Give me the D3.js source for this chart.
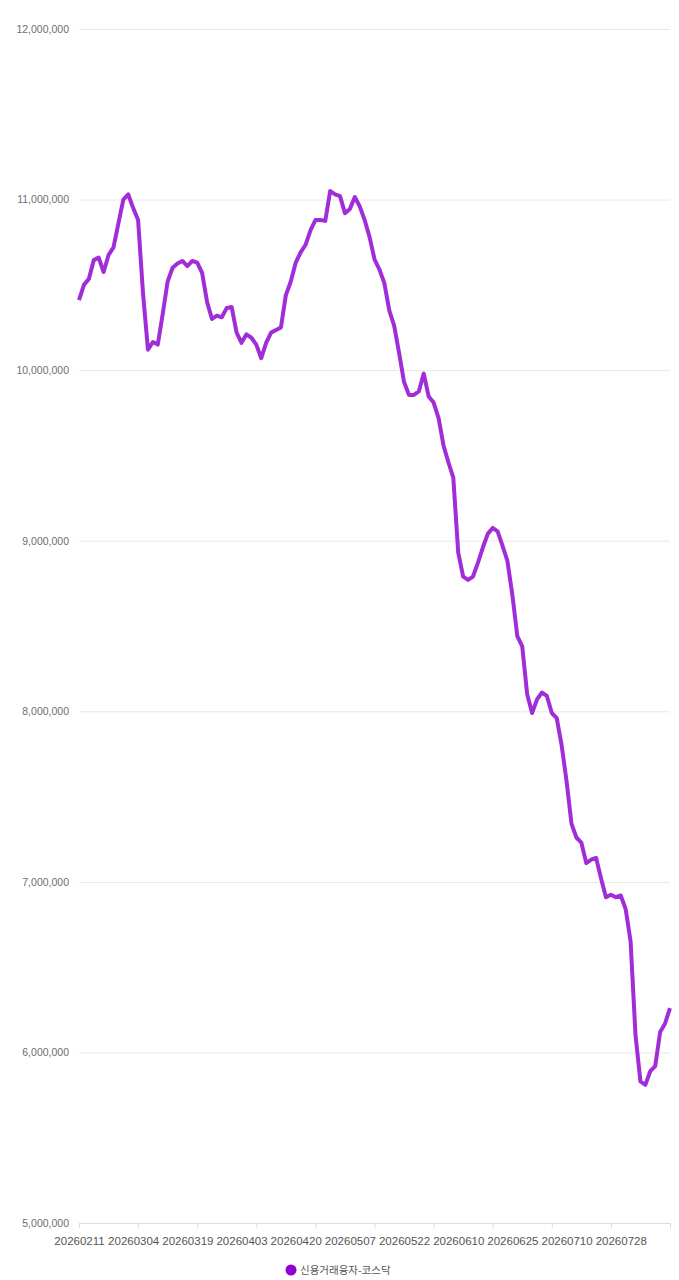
<!DOCTYPE html>
<html>
<head>
<meta charset="utf-8">
<script src="https://cdn.jsdelivr.net/npm/d3@7"></script>
<style>
  html, body { margin:0; padding:0; background:#fff; }
  svg { display:block; font-family: Roboto, "Noto Sans CJK KR", sans-serif; }
</style>
</head>
<body>
<svg id="chart" width="679" height="1280"></svg>
<script>
// trading days (categories)
const dates = [
  "20260211","20260212","20260213","20260219","20260220","20260223","20260224","20260225","20260226","20260227",
  "20260303","20260304","20260305","20260306","20260309","20260310","20260311","20260312","20260313","20260316",
  "20260317","20260318","20260319","20260320","20260323","20260324","20260325","20260326","20260327","20260330",
  "20260331","20260401","20260402","20260403","20260406","20260407","20260408","20260409","20260410","20260413",
  "20260414","20260415","20260416","20260417","20260420","20260421","20260422","20260423","20260424","20260427",
  "20260428","20260429","20260430","20260504","20260506","20260507","20260508","20260511","20260512","20260513",
  "20260514","20260515","20260518","20260519","20260520","20260521","20260522","20260526","20260527","20260528",
  "20260529","20260601","20260602","20260604","20260605","20260608","20260609","20260610","20260611","20260612",
  "20260615","20260616","20260617","20260618","20260619","20260622","20260623","20260624","20260625","20260626",
  "20260629","20260630","20260701","20260702","20260703","20260706","20260707","20260708","20260709","20260710",
  "20260713","20260714","20260715","20260716","20260720","20260721","20260722","20260723","20260724","20260727",
  "20260728","20260729","20260730","20260731","20260803","20260804","20260805","20260806","20260807","20260810",
  "20260811"
];

// 신용거래융자-코스닥 (millions)
const credit = [
  10.41,10.50,10.535,10.645,10.66,10.575,10.675,10.72,10.86,11.00,
  11.03,10.95,10.88,10.45,10.12,10.165,10.15,10.33,10.52,10.60,
  10.625,10.64,10.61,10.64,10.63,10.57,10.40,10.30,10.32,10.31,
  10.365,10.37,10.22,10.16,10.21,10.19,10.15,10.07,10.16,10.22,
  10.235,10.25,10.44,10.52,10.63,10.69,10.735,10.82,10.88,10.88,
  10.875,11.05,11.03,11.02,10.92,10.945,11.015,10.96,10.88,10.78,
  10.65,10.59,10.51,10.35,10.26,10.10,9.93,9.855,9.855,9.875,
  9.98,9.845,9.81,9.72,9.56,9.46,9.37,8.93,8.79,8.77,
  8.79,8.87,8.96,9.04,9.075,9.055,8.97,8.88,8.68,8.44,
  8.38,8.10,7.99,8.07,8.11,8.09,7.99,7.96,7.80,7.59,
  7.34,7.26,7.23,7.11,7.13,7.14,7.02,6.91,6.925,6.91,
  6.92,6.84,6.65,6.10,5.83,5.81,5.89,5.92,6.12,6.17,
  6.26
].map(v => v * 1e6);

const yTicks = [5e6, 6e6, 7e6, 8e6, 9e6, 10e6, 11e6, 12e6];
const labelDates = ["20260211","20260304","20260319","20260403","20260420","20260507",
                    "20260522","20260610","20260625","20260710","20260728"];
const tickDates = dates.filter((d, i) => i % 12 === 0);
const seriesName = "신용거래융자-코스닥";

const svg = d3.select("#chart");
const mLeft = 79, mRight = 670, mTop = 29, mBottom = 1223;

const x = d3.scalePoint().domain(dates).range([mLeft, mRight]);
const y = d3.scaleLinear().domain([5e6, 12e6]).range([mBottom, mTop]);

// grid + y labels
const yAxis = svg.append("g")
  .attr("transform", `translate(${mLeft},0)`)
  .call(d3.axisLeft(y).tickValues(yTicks).tickFormat(d3.format(",")).tickSize(-(mRight - mLeft)).tickPadding(10));
yAxis.select(".domain").remove();
yAxis.selectAll(".tick line").attr("stroke", "#e8e8e8").attr("stroke-width", 1);
yAxis.selectAll(".tick text").attr("fill", "#6e6e6e").attr("font-size", 10.5);

// x axis line + tick marks
const xTickAxis = svg.append("g")
  .attr("transform", `translate(0,${mBottom})`)
  .call(d3.axisBottom(x).tickValues(tickDates).tickSize(5).tickFormat(""));
xTickAxis.select(".domain").attr("stroke", "#dcdcdc").attr("d", `M${mLeft},0.5H${mRight}`);
xTickAxis.selectAll(".tick line").attr("stroke", "#dcdcdc");

// x labels
const xLab = svg.append("g")
  .attr("transform", `translate(0,${mBottom})`)
  .call(d3.axisBottom(x).tickValues(labelDates).tickSize(0).tickPadding(14));
xLab.select(".domain").remove();
xLab.selectAll(".tick text").attr("fill", "#555").attr("font-size", 11.5);

// line
const line = d3.line()
  .x((d, i) => x(dates[i]))
  .y(d => y(d));

svg.append("path")
  .datum(credit)
  .attr("fill", "none")
  .attr("stroke", "#a12dd9")
  .attr("stroke-width", 4)
  .attr("stroke-linejoin", "round")
  .attr("d", line);

// legend
const lg = svg.append("g").attr("transform", "translate(291,1270)");
lg.append("circle").attr("r", 5.5).attr("fill", "#9400d3");
lg.append("text")
  .attr("x", 9).attr("y", 0).attr("dy", "0.35em")
  .attr("font-size", 10.5).attr("fill", "#555")
  .attr("font-family", "\"Noto Sans CJK KR\", sans-serif")
  .text(seriesName);
</script>
</body>
</html>
